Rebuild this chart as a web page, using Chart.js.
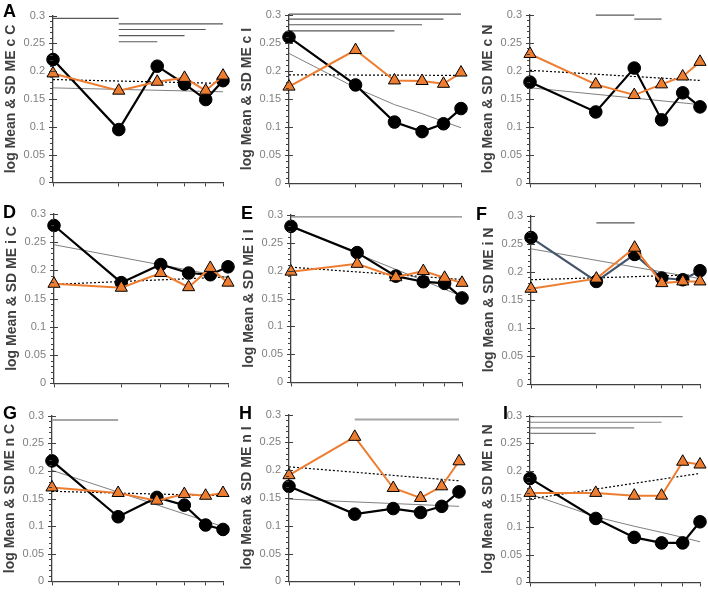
<!DOCTYPE html>
<html>
<head>
<meta charset="utf-8">
<script src="https://cdn.jsdelivr.net/npm/chart.js@4.4.1/dist/chart.umd.min.js"></script>
<style>
html, body { margin: 0; padding: 0; background: #fff; }
body { width: 708px; height: 595px; position: relative; overflow: hidden; }
.panel { position: absolute; }
.letter { position: absolute; font: bold 18px 'Liberation Sans', Arial, sans-serif; color: #000; line-height: 1; }
</style>
</head>
<body>
<script>
// shared axes
const xDays = [1, 2, 3, 4, 5, 6]
const yTicks = [0, 0.05, 0.1, 0.15, 0.2, 0.25, 0.3]

// panel A - c C
const blackA = [0.221, 0.095, 0.209, 0.177, 0.149, 0.183]
const orangeA = [0.196, 0.165, 0.181, 0.188, 0.165, 0.192]
const trendBlackA = [[1, 0.170], [6, 0.163]]
const trendOrangeA = [[1, 0.185], [6, 0.178]]
const barsA = [[1, 2, 0.295], [2, 6, 0.285], [2, 5, 0.275], [2, 4, 0.264], [2, 3, 0.253]]

// panel B - c I
const blackB = [0.260, 0.175, 0.109, 0.092, 0.106, 0.133]
const orangeB = [0.172, 0.237, 0.183, 0.182, 0.177, 0.197]
const trendBlackB = [[1, 0.231], [2, 0.170], [3, 0.140], [4, 0.124], [5, 0.110], [6, 0.099]]
const trendOrangeB = [[1, 0.193], [6, 0.192]]
const barsB = [[1, 6, 0.301], [1, 5, 0.292], [1, 4, 0.282], [1, 3, 0.271]]

// panel C - c N
const blackC = [0.180, 0.127, 0.205, 0.113, 0.161, 0.136]
const orangeC = [0.230, 0.176, 0.157, 0.176, 0.190, 0.216]
const trendBlackC = [[1, 0.170], [6, 0.140]]
const trendOrangeC = [[1, 0.201], [6, 0.183]]
const barsC = [[2, 3, 0.299], [3, 4, 0.292]]

// panel D - i C
const blackD = [0.279, 0.178, 0.210, 0.195, 0.192, 0.206]
const orangeD = [0.176, 0.169, 0.195, 0.170, 0.204, 0.178]
const trendBlackD = [[1, 0.245], [6, 0.187]]
const trendOrangeD = [[1, 0.175], [6, 0.188]]
const barsD = []

// panel E - i I
const blackE = [0.279, 0.232, 0.190, 0.180, 0.177, 0.151]
const orangeE = [0.198, 0.212, 0.188, 0.199, 0.187, 0.178]
const trendBlackE = [[1, 0.278], [6, 0.154]]
const trendOrangeE = [[1, 0.206], [6, 0.184]]
const barsE = [[1, 6, 0.296]]

// panel F - i N
const blackF = [0.261, 0.183, 0.231, 0.189, 0.186, 0.202]
const orangeF = [0.170, 0.188, 0.243, 0.180, 0.183, 0.183]
const trendBlackF = [[1, 0.241], [6, 0.188]]
const trendOrangeF = [[1, 0.186], [6, 0.195]]
const barsF = [[2, 3, 0.287]]

// panel G - n C
const blackG = [0.218, 0.117, 0.152, 0.138, 0.102, 0.094]
const orangeG = [0.170, 0.160, 0.146, 0.158, 0.155, 0.160]
const trendBlackG = [[1, 0.201], [6, 0.099]]
const trendOrangeG = [[1, 0.163], [6, 0.155]]
const barsG = [[1, 2, 0.292]]

// panel H - n I
const blackH = [0.171, 0.121, 0.131, 0.124, 0.135, 0.161]
const orangeH = [0.191, 0.260, 0.168, 0.150, 0.171, 0.216]
const trendBlackH = [[1, 0.148], [6, 0.135]]
const trendOrangeH = [[1, 0.206], [6, 0.181]]
const barsH = [[2, 6, 0.291]]

// panel I - n N
const blackI = [0.187, 0.115, 0.081, 0.071, 0.071, 0.109]
const orangeI = [0.161, 0.161, 0.156, 0.156, 0.217, 0.212]
const trendBlackI = [[1, 0.159], [2, 0.118], [3, 0.101], [4, 0.090], [5, 0.081], [6, 0.073]]
const trendOrangeI = [[1, 0.150], [6, 0.196]]
const barsI = [[1, 5, 0.298], [1, 4, 0.288], [1, 3, 0.278], [1, 2, 0.268]]

const axisColor = '#404040'
const orange = '#ED7D31'

// chart area boxes in page pixels: left, top, right, bottom
const panels = [
  { letter: 'A', title: 'log Mean & SD ME c C', area: [53, 9, 223, 189], black: blackA, orange: orangeA, tb: trendBlackA, to: trendOrangeA, bars: barsA, barColor: '#595959' },
  { letter: '', title: 'log Mean & SD ME c I', area: [289, 8, 461, 190], black: blackB, orange: orangeB, tb: trendBlackB, to: trendOrangeB, bars: barsB, barColor: '#595959' },
  { letter: '', title: 'log Mean & SD ME c N', area: [530, 8, 700, 190], black: blackC, orange: orangeC, tb: trendBlackC, to: trendOrangeC, bars: barsC, barColor: '#595959' },
  { letter: 'D', title: 'log Mean & SD ME i C', area: [54, 207, 228, 390], black: blackD, orange: orangeD, tb: trendBlackD, to: trendOrangeD, bars: barsD, barColor: '#595959' },
  { letter: 'E', title: 'log Mean & SD ME i I', area: [291, 208, 462, 389], black: blackE, orange: orangeE, tb: trendBlackE, to: trendOrangeE, bars: barsE, barColor: '#7f7f7f' },
  { letter: 'F', title: 'log Mean & SD ME i N', area: [531, 209, 700, 391], black: blackF, orange: orangeF, tb: trendBlackF, to: trendOrangeF, bars: barsF, barColor: '#595959', lineColor: '#44546A' },
  { letter: 'G', title: 'log Mean & SD ME n C', area: [52, 409, 223, 588], black: blackG, orange: orangeG, tb: trendBlackG, to: trendOrangeG, bars: barsG, barColor: '#a6a6a6', barWidth: 2 },
  { letter: 'H', title: 'log Mean & SD ME n I', area: [289, 408, 459, 588], black: blackH, orange: orangeH, tb: trendBlackH, to: trendOrangeH, bars: barsH, barColor: '#a6a6a6', barWidth: 2 },
  { letter: 'I', title: 'log Mean & SD ME n N', area: [530, 409, 700, 589], black: blackI, orange: orangeI, tb: trendBlackI, to: trendOrangeI, bars: barsI, barColor: '#808080' },
]
const letterPos = { A: [3, 2], D: [3, 203], E: [241, 204], F: [476, 205], G: [3, 404], H: [239, 404], I: [503, 404] }

// major ticks cross the axis, minor ticks every 0.01 on the outside
const yTickMarks = {
  id: 'yTickMarks',
  afterDraw(chart) {
    const y = chart.scales.y
    const ctx = chart.ctx
    const x0 = y.right
    ctx.save()
    ctx.strokeStyle = axisColor
    ctx.lineWidth = 1
    for (let i = 0; i <= 30; i++) {
      const py = Math.round(y.getPixelForValue(i / 100)) + 0.5
      const major = i % 5 === 0
      ctx.beginPath()
      ctx.moveTo(x0 - (major ? 4 : 3), py)
      ctx.lineTo(x0 + (major ? 4 : 0), py)
      ctx.stroke()
    }
    ctx.restore()
  },
}

const toPoints = (ys) => ys.map((y, i) => ({ x: xDays[i], y: y }))
const pairPoints = (pairs) => pairs.map(([x, y]) => ({ x: x, y: y }))

function makePanel(p) {
  const [l, t, r, b] = p.area
  const box = document.createElement('div')
  box.className = 'panel'
  box.style.left = l - 52 + 'px'
  box.style.top = t - 8 + 'px'
  box.style.width = r - l + 52 + 8 + 'px'
  box.style.height = b - t + 8 + 8 + 'px'
  const canvas = document.createElement('canvas')
  box.appendChild(canvas)
  document.body.appendChild(box)

  // first dataset is drawn on top
  const datasets = [
    {
      data: toPoints(p.orange),
      borderColor: orange,
      borderWidth: 2,
      pointStyle: 'triangle',
      pointRadius: 7,
      pointBackgroundColor: orange,
      pointBorderColor: '#000',
      pointBorderWidth: 1,
      clip: false,
    },
    {
      data: toPoints(p.black),
      borderColor: p.lineColor || '#000',
      borderWidth: 2.2,
      pointStyle: 'circle',
      pointRadius: 6.3,
      pointBackgroundColor: '#000',
      pointBorderColor: '#000',
      pointBorderWidth: 1,
      clip: false,
    },
    {
      data: pairPoints(p.to),
      borderColor: '#000',
      borderWidth: 1.2,
      borderDash: [2, 2],
      pointRadius: 0,
    },
    {
      data: pairPoints(p.tb),
      borderColor: '#7f7f7f',
      borderWidth: 1,
      pointRadius: 0,
    },
  ]
  p.bars.forEach((bar) => {
    datasets.push({
      data: [{ x: bar[0], y: bar[2] }, { x: bar[1], y: bar[2] }],
      borderColor: p.barColor,
      borderWidth: p.barWidth || 1.2,
      pointRadius: 0,
      clip: false,
    })
  })

  new Chart(canvas, {
    type: 'line',
    data: { datasets: datasets },
    options: {
      responsive: true,
      maintainAspectRatio: false,
      animation: false,
      layout: { padding: { top: 8, right: 8, left: 0, bottom: 0 } },
      plugins: { legend: { display: false }, tooltip: { enabled: false } },
      scales: {
        x: {
          type: 'logarithmic',
          min: 1,
          max: 6,
          afterBuildTicks: (s) => { s.ticks = xDays.map((v) => ({ value: v })) },
          afterFit: (s) => { s.height = 8 },
          ticks: { display: false },
          grid: { display: true, drawOnChartArea: false, drawTicks: true, tickLength: 4, color: axisColor, lineWidth: 1 },
          border: { display: true, color: axisColor, width: 1.3 },
        },
        y: {
          min: 0,
          max: 0.3,
          afterBuildTicks: (s) => { s.ticks = yTicks.map((v) => ({ value: v })) },
          afterFit: (s) => { s.width = 52 },
          ticks: {
            color: '#808080',
            font: { family: "'Liberation Sans', Arial, sans-serif", size: 11 },
            padding: 8,
            callback: (v) => String(+v.toFixed(2)),
          },
          grid: { display: true, drawOnChartArea: false, drawTicks: false },
          border: { display: true, color: axisColor, width: 1.3 },
          title: {
            display: true,
            text: p.title,
            color: '#404040',
            font: { family: "'Liberation Sans', Arial, sans-serif", size: 14, weight: 'bold' },
            padding: { top: 2, bottom: 0 },
          },
        },
      },
    },
    plugins: [yTickMarks],
  })

  if (p.letter) {
    const el = document.createElement('div')
    el.className = 'letter'
    el.textContent = p.letter
    el.style.left = letterPos[p.letter][0] + 'px'
    el.style.top = letterPos[p.letter][1] + 'px'
    document.body.appendChild(el)
  }
}

panels.forEach(makePanel)
</script>
</body>
</html>
